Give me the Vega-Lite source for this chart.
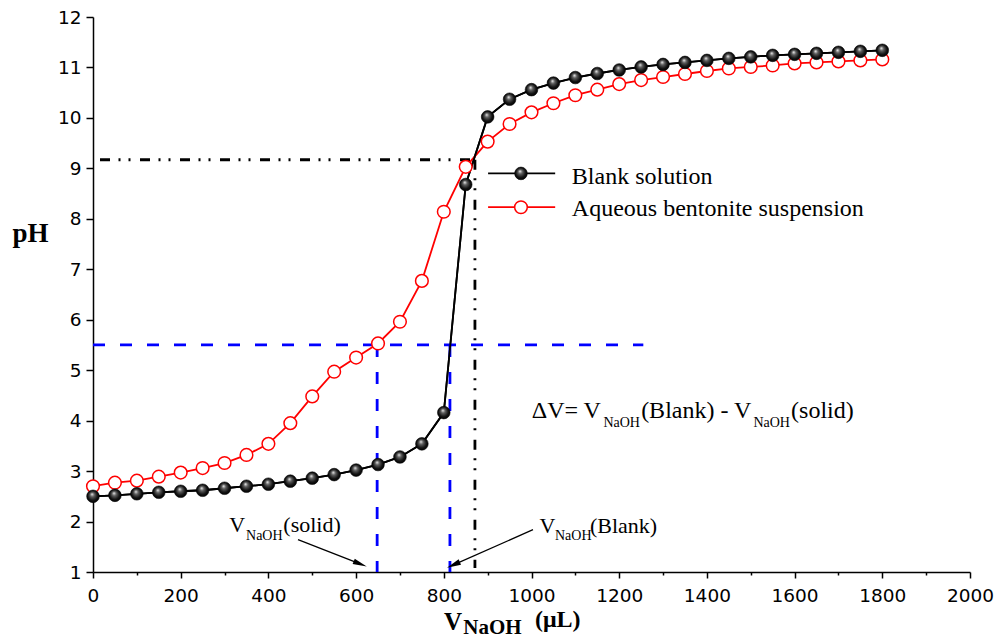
{
  "$schema": "https://vega.github.io/schema/vega-lite/v6.json",
  "width": 877,
  "height": 555,
  "autosize": {"type": "none"},
  "padding": {"left": 93, "top": 17, "right": 26, "bottom": 66},
  "background": "white",
  "data": {"values": [{}]},
  "config": {
    "view": {"stroke": null},
    "axis": {
      "grid": false,
      "domainColor": "black",
      "domainWidth": 1.5,
      "tickColor": "black",
      "tickWidth": 1.5,
      "labelColor": "black",
      "labelFont": "DejaVu Sans",
      "labelFontSize": 18.5,
      "labelOverlap": false,
      "labelFlush": false
    }
  },
  "datasets": {
    "blank": [
      {"volume": 0, "pH": 2.50}, {"volume": 50, "pH": 2.52}, {"volume": 100, "pH": 2.55}, {"volume": 150, "pH": 2.58},
      {"volume": 200, "pH": 2.60}, {"volume": 250, "pH": 2.62}, {"volume": 300, "pH": 2.66}, {"volume": 350, "pH": 2.70},
      {"volume": 400, "pH": 2.74}, {"volume": 450, "pH": 2.80}, {"volume": 500, "pH": 2.86}, {"volume": 550, "pH": 2.93},
      {"volume": 600, "pH": 3.02}, {"volume": 650, "pH": 3.13}, {"volume": 700, "pH": 3.28}, {"volume": 750, "pH": 3.54},
      {"volume": 800, "pH": 4.16}, {"volume": 850, "pH": 8.68}, {"volume": 900, "pH": 10.02}, {"volume": 950, "pH": 10.37},
      {"volume": 1000, "pH": 10.56}, {"volume": 1050, "pH": 10.69}, {"volume": 1100, "pH": 10.80}, {"volume": 1150, "pH": 10.88},
      {"volume": 1200, "pH": 10.95}, {"volume": 1250, "pH": 11.01}, {"volume": 1300, "pH": 11.06}, {"volume": 1350, "pH": 11.10},
      {"volume": 1400, "pH": 11.14}, {"volume": 1450, "pH": 11.18}, {"volume": 1500, "pH": 11.21}, {"volume": 1550, "pH": 11.24},
      {"volume": 1600, "pH": 11.26}, {"volume": 1650, "pH": 11.28}, {"volume": 1700, "pH": 11.30}, {"volume": 1750, "pH": 11.32},
      {"volume": 1800, "pH": 11.34}
    ],
    "bentonite": [
      {"volume": 0, "pH": 2.70}, {"volume": 50, "pH": 2.77}, {"volume": 100, "pH": 2.81}, {"volume": 150, "pH": 2.89},
      {"volume": 200, "pH": 2.97}, {"volume": 250, "pH": 3.06}, {"volume": 300, "pH": 3.16}, {"volume": 350, "pH": 3.32},
      {"volume": 400, "pH": 3.54}, {"volume": 450, "pH": 3.95}, {"volume": 500, "pH": 4.48}, {"volume": 550, "pH": 4.97},
      {"volume": 600, "pH": 5.25}, {"volume": 650, "pH": 5.53}, {"volume": 700, "pH": 5.96}, {"volume": 750, "pH": 6.77},
      {"volume": 800, "pH": 8.14}, {"volume": 850, "pH": 9.03}, {"volume": 900, "pH": 9.53}, {"volume": 950, "pH": 9.88},
      {"volume": 1000, "pH": 10.11}, {"volume": 1050, "pH": 10.29}, {"volume": 1100, "pH": 10.45}, {"volume": 1150, "pH": 10.56},
      {"volume": 1200, "pH": 10.67}, {"volume": 1250, "pH": 10.75}, {"volume": 1300, "pH": 10.81}, {"volume": 1350, "pH": 10.87},
      {"volume": 1400, "pH": 10.93}, {"volume": 1450, "pH": 10.98}, {"volume": 1500, "pH": 11.01}, {"volume": 1550, "pH": 11.04},
      {"volume": 1600, "pH": 11.08}, {"volume": 1650, "pH": 11.10}, {"volume": 1700, "pH": 11.12}, {"volume": 1750, "pH": 11.14},
      {"volume": 1800, "pH": 11.16}
    ]
  },
  "layer": [
    {
      "data": {"name": "blank"},
      "mark": {"type": "line", "color": "black", "strokeWidth": 1.8},
      "encoding": {
        "x": {
          "field": "volume", "type": "quantitative",
          "scale": {"domain": [0, 2000], "nice": false, "zero": false},
          "axis": {
            "title": null,
            "format": "d",
            "values": [0,100,200,300,400,500,600,700,800,900,1000,1100,1200,1300,1400,1500,1600,1700,1800,1900,2000],
            "labelExpr": "datum.value % 200 === 0 ? datum.label : ''",
            "tickSize": {"condition": {"test": "datum.value % 200 === 0", "value": 6}, "value": 3},
            "labelPadding": 8
          }
        },
        "y": {
          "field": "pH", "type": "quantitative",
          "scale": {"domain": [1, 12], "nice": false, "zero": false},
          "axis": {
            "title": "pH",
            "titleAngle": 0,
            "titleFont": "Liberation Serif",
            "titleFontSize": 27,
            "titleFontWeight": "bold",
            "titleColor": "black",
            "titleAlign": "center",
            "titleBaseline": "alphabetic",
            "titleX": -63,
            "titleY": 224,
            "values": [1,1.5,2,2.5,3,3.5,4,4.5,5,5.5,6,6.5,7,7.5,8,8.5,9,9.5,10,10.5,11,11.5,12],
            "labelExpr": "datum.value % 1 === 0 ? datum.label : ''",
            "tickSize": {"condition": {"test": "datum.value % 1 === 0", "value": 7}, "value": 4},
            "labelPadding": 5
          }
        }
      }
    },
    {
      "mark": {"type": "rule", "color": "black", "strokeWidth": 3, "strokeDash": [10, 8.5, 2, 8, 2, 9.5], "strokeDashOffset": 33},
      "encoding": {
        "x": {"datum": 0, "type": "quantitative"},
        "x2": {"datum": 871},
        "y": {"datum": 9.17, "type": "quantitative"}
      }
    },
    {
      "mark": {"type": "rule", "color": "black", "strokeWidth": 2.8, "strokeDash": [10, 8.5, 2, 8, 2, 9.5]},
      "encoding": {
        "x": {"datum": 871, "type": "quantitative"},
        "y": {"datum": 9.17, "type": "quantitative"},
        "y2": {"datum": 1.08}
      }
    },
    {
      "mark": {"type": "rule", "color": "#0000ff", "strokeWidth": 2.8, "strokeDash": [12, 15]},
      "encoding": {
        "x": {"datum": 0, "type": "quantitative"},
        "x2": {"datum": 1255},
        "y": {"datum": 5.5, "type": "quantitative"}
      }
    },
    {
      "mark": {"type": "rule", "color": "#0000ff", "strokeWidth": 2.8, "strokeDash": [12, 15]},
      "encoding": {
        "x": {"datum": 648, "type": "quantitative"},
        "y": {"datum": 5.5, "type": "quantitative"},
        "y2": {"datum": 1}
      }
    },
    {
      "mark": {"type": "rule", "color": "#0000ff", "strokeWidth": 2.8, "strokeDash": [12, 15]},
      "encoding": {
        "x": {"datum": 814, "type": "quantitative"},
        "y": {"datum": 5.5, "type": "quantitative"},
        "y2": {"datum": 1}
      }
    },
    {
      "data": {"name": "bentonite"},
      "mark": {"type": "line", "color": "#ff0000", "strokeWidth": 1.8},
      "encoding": {
        "x": {"field": "volume", "type": "quantitative"},
        "y": {"field": "pH", "type": "quantitative"}
      }
    },
    {
      "data": {"name": "blank"},
      "mark": {"type": "line", "color": "black", "strokeWidth": 1.8},
      "encoding": {
        "x": {"field": "volume", "type": "quantitative"},
        "y": {"field": "pH", "type": "quantitative"}
      }
    },
    {
      "data": {"name": "bentonite"},
      "mark": {"type": "point", "shape": "circle", "size": 160, "filled": true, "fill": "white", "stroke": "#ff0000", "strokeWidth": 1.5, "opacity": 1},
      "encoding": {
        "x": {"field": "volume", "type": "quantitative"},
        "y": {"field": "pH", "type": "quantitative"}
      }
    },
    {
      "data": {"name": "blank"},
      "mark": {
        "type": "point", "shape": "circle", "size": 160, "filled": true, "opacity": 1,
        "fill": {"gradient": "radial", "x1": 0.42, "y1": 0.32, "r1": 0, "x2": 0.5, "y2": 0.5, "r2": 0.55,
                 "stops": [{"offset": 0, "color": "#f2f2f2"}, {"offset": 0.3, "color": "#606060"}, {"offset": 0.7, "color": "#111111"}, {"offset": 1, "color": "#000000"}]},
        "stroke": "black", "strokeWidth": 0.6
      },
      "encoding": {
        "x": {"field": "volume", "type": "quantitative"},
        "y": {"field": "pH", "type": "quantitative"}
      }
    },
    {
      "mark": {"type": "rule", "color": "black", "strokeWidth": 1.8},
      "encoding": {
        "x": {"datum": 901, "type": "quantitative"},
        "x2": {"datum": 1054},
        "y": {"datum": 8.9, "type": "quantitative"}
      }
    },
    {
      "mark": {
        "type": "point", "shape": "circle", "size": 160, "filled": true, "opacity": 1,
        "fill": {"gradient": "radial", "x1": 0.42, "y1": 0.32, "r1": 0, "x2": 0.5, "y2": 0.5, "r2": 0.55,
                 "stops": [{"offset": 0, "color": "#f2f2f2"}, {"offset": 0.3, "color": "#606060"}, {"offset": 0.7, "color": "#111111"}, {"offset": 1, "color": "#000000"}]},
        "stroke": "black", "strokeWidth": 0.6
      },
      "encoding": {
        "x": {"datum": 976, "type": "quantitative"},
        "y": {"datum": 8.9, "type": "quantitative"}
      }
    },
    {
      "mark": {"type": "text", "text": "Blank solution", "font": "Liberation Serif", "fontSize": 24, "align": "left", "baseline": "alphabetic", "color": "black"},
      "encoding": {
        "x": {"datum": 1092, "type": "quantitative"},
        "y": {"datum": 8.70, "type": "quantitative"}
      }
    },
    {
      "mark": {"type": "rule", "color": "#ff0000", "strokeWidth": 1.8},
      "encoding": {
        "x": {"datum": 901, "type": "quantitative"},
        "x2": {"datum": 1054},
        "y": {"datum": 8.23, "type": "quantitative"}
      }
    },
    {
      "mark": {"type": "point", "shape": "circle", "size": 160, "filled": true, "fill": "white", "stroke": "#ff0000", "strokeWidth": 1.5, "opacity": 1},
      "encoding": {
        "x": {"datum": 976, "type": "quantitative"},
        "y": {"datum": 8.23, "type": "quantitative"}
      }
    },
    {
      "mark": {"type": "text", "text": "Aqueous bentonite suspension", "font": "Liberation Serif", "fontSize": 24, "align": "left", "baseline": "alphabetic", "color": "black"},
      "encoding": {
        "x": {"datum": 1092, "type": "quantitative"},
        "y": {"datum": 8.055, "type": "quantitative"}
      }
    },
    {
      "mark": {"type": "text", "text": "ΔV= V", "font": "Liberation Serif", "fontSize": 24, "align": "left", "baseline": "alphabetic", "color": "black"},
      "encoding": {
        "x": {"datum": 1000.5, "type": "quantitative"},
        "y": {"datum": 4.05, "type": "quantitative"}
      }
    },
    {
      "mark": {"type": "text", "text": "NaOH", "font": "Liberation Serif", "fontSize": 14, "align": "left", "baseline": "alphabetic", "color": "black"},
      "encoding": {
        "x": {"datum": 1164, "type": "quantitative"},
        "y": {"datum": 3.87, "type": "quantitative"}
      }
    },
    {
      "mark": {"type": "text", "text": "(Blank) - V", "font": "Liberation Serif", "fontSize": 24, "align": "left", "baseline": "alphabetic", "color": "black"},
      "encoding": {
        "x": {"datum": 1250, "type": "quantitative"},
        "y": {"datum": 4.05, "type": "quantitative"}
      }
    },
    {
      "mark": {"type": "text", "text": "NaOH", "font": "Liberation Serif", "fontSize": 14, "align": "left", "baseline": "alphabetic", "color": "black"},
      "encoding": {
        "x": {"datum": 1506, "type": "quantitative"},
        "y": {"datum": 3.87, "type": "quantitative"}
      }
    },
    {
      "mark": {"type": "text", "text": "(solid)", "font": "Liberation Serif", "fontSize": 24, "align": "left", "baseline": "alphabetic", "color": "black"},
      "encoding": {
        "x": {"datum": 1592, "type": "quantitative"},
        "y": {"datum": 4.05, "type": "quantitative"}
      }
    },
    {
      "mark": {"type": "text", "text": "V", "font": "Liberation Serif", "fontSize": 22, "align": "left", "baseline": "alphabetic", "color": "black"},
      "encoding": {
        "x": {"datum": 311, "type": "quantitative"},
        "y": {"datum": 1.80, "type": "quantitative"}
      }
    },
    {
      "mark": {"type": "text", "text": "NaOH", "font": "Liberation Serif", "fontSize": 14, "align": "left", "baseline": "alphabetic", "color": "black"},
      "encoding": {
        "x": {"datum": 349, "type": "quantitative"},
        "y": {"datum": 1.64, "type": "quantitative"}
      }
    },
    {
      "mark": {"type": "text", "text": "(solid)", "font": "Liberation Serif", "fontSize": 22, "align": "left", "baseline": "alphabetic", "color": "black"},
      "encoding": {
        "x": {"datum": 434, "type": "quantitative"},
        "y": {"datum": 1.80, "type": "quantitative"}
      }
    },
    {
      "mark": {"type": "rule", "color": "black", "strokeWidth": 1.3},
      "encoding": {
        "x": {"datum": 467.5, "type": "quantitative"},
        "y": {"datum": 1.64, "type": "quantitative"},
        "x2": {"datum": 609},
        "y2": {"datum": 1.16}
      }
    },
    {
      "mark": {"type": "point", "shape": "M1,0L-1,-0.42L-1,0.42Z", "size": 196, "angle": 21.4, "filled": true, "color": "black", "opacity": 1},
      "encoding": {
        "x": {"datum": 609.4, "type": "quantitative"},
        "y": {"datum": 1.16, "type": "quantitative"}
      }
    },
    {
      "mark": {"type": "text", "text": "V", "font": "Liberation Serif", "fontSize": 22, "align": "left", "baseline": "alphabetic", "color": "black"},
      "encoding": {
        "x": {"datum": 1018, "type": "quantitative"},
        "y": {"datum": 1.77, "type": "quantitative"}
      }
    },
    {
      "mark": {"type": "text", "text": "NaOH", "font": "Liberation Serif", "fontSize": 14, "align": "left", "baseline": "alphabetic", "color": "black"},
      "encoding": {
        "x": {"datum": 1053.6, "type": "quantitative"},
        "y": {"datum": 1.63, "type": "quantitative"}
      }
    },
    {
      "mark": {"type": "text", "text": "(Blank)", "font": "Liberation Serif", "fontSize": 22, "align": "left", "baseline": "alphabetic", "color": "black"},
      "encoding": {
        "x": {"datum": 1133.4, "type": "quantitative"},
        "y": {"datum": 1.77, "type": "quantitative"}
      }
    },
    {
      "mark": {"type": "rule", "color": "black", "strokeWidth": 1.3},
      "encoding": {
        "x": {"datum": 1003.4, "type": "quantitative"},
        "y": {"datum": 1.838, "type": "quantitative"},
        "x2": {"datum": 822},
        "y2": {"datum": 1.141}
      }
    },
    {
      "mark": {"type": "point", "shape": "M1,0L-1,-0.42L-1,0.42Z", "size": 196, "angle": 156.2, "filled": true, "color": "black", "opacity": 1},
      "encoding": {
        "x": {"datum": 821.9, "type": "quantitative"},
        "y": {"datum": 1.141, "type": "quantitative"}
      }
    },
    {
      "mark": {"type": "text", "text": "V", "font": "Liberation Serif", "fontSize": 25, "fontWeight": "bold", "align": "left", "baseline": "alphabetic", "color": "black"},
      "encoding": {
        "x": {"datum": 800.5, "type": "quantitative"},
        "y": {"datum": -0.14, "type": "quantitative"}
      }
    },
    {
      "mark": {"type": "text", "text": "NaOH", "font": "Liberation Serif", "fontSize": 21, "fontWeight": "bold", "align": "left", "baseline": "alphabetic", "color": "black"},
      "encoding": {
        "x": {"datum": 844.5, "type": "quantitative"},
        "y": {"datum": -0.22, "type": "quantitative"}
      }
    },
    {
      "mark": {"type": "text", "text": "(μL)", "font": "Liberation Serif", "fontSize": 24, "fontWeight": "bold", "align": "left", "baseline": "alphabetic", "color": "black"},
      "encoding": {
        "x": {"datum": 1008, "type": "quantitative"},
        "y": {"datum": -0.09, "type": "quantitative"}
      }
    }
  ]
}
